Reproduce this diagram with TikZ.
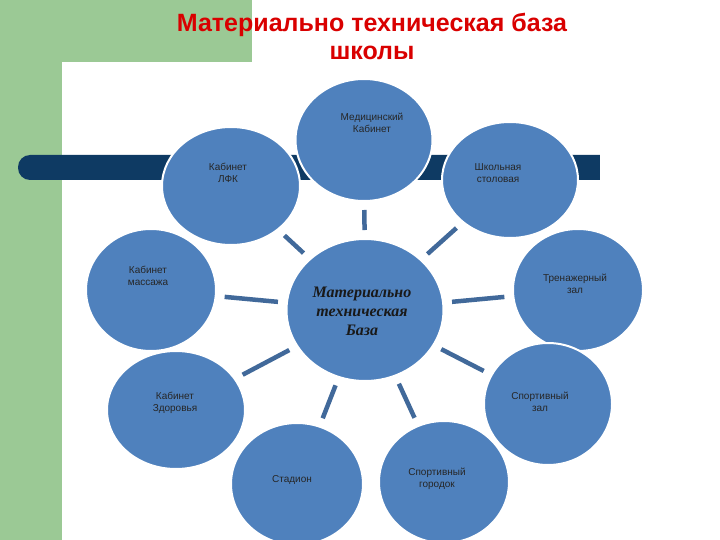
\documentclass[tikz,border=0pt]{standalone}
\usepackage{fontspec}
\usetikzlibrary{shapes.geometric}
\setmainfont{Liberation Sans}
\newfontfamily\scr{Liberation Serif}
\begin{document}
\begin{tikzpicture}[x=1pt,y=-1pt,
  circ/.style={ellipse,fill=cfill,draw=white,line width=2pt,inner sep=0pt},
  lbl/.style={align=center,font=\fontsize{10}{12.5}\selectfont,text=black!85},
  conn/.style={draw=lnk,line width=4.5pt,shorten <=8pt,shorten >=8pt}]
\definecolor{cfill}{HTML}{4F81BD}
\definecolor{lnk}{HTML}{41699A}
\definecolor{grn}{HTML}{9BC995}
\definecolor{navy}{HTML}{0E3A63}
\useasboundingbox (0,0) rectangle (720,540);
\fill[white] (0,0) rectangle (720,540);
\fill[grn] (0,0) rectangle (252,62);
\fill[grn] (0,0) rectangle (62,540);
\fill[white] (62,540) -- (62,84) arc[start angle=180,end angle=90,radius=22] -- (252,62) |- (720,540) -- cycle;
\fill[navy,rounded corners=12pt] (18,155) rectangle (612,180);
\fill[navy] (590,155) rectangle (600,180);
\fill[white] (600,150) rectangle (620,185);
\node[font=\bfseries\fontsize{25}{28}\selectfont,text=red!85!black,align=center] (t) at (372,36) {Материально техническая база\\школы};
\node[circ,minimum width=157pt,minimum height=142pt] (c) at (365,310) {};
\node[circ,minimum width=137pt,minimum height=122pt] (a) at (364,140) {};
\node[circ,minimum width=138pt,minimum height=118pt] (b) at (231,186) {};
\node[circ,minimum width=136pt,minimum height=116pt] (d) at (510,180) {};
\node[circ,minimum width=130pt,minimum height=122pt] (e) at (151,290) {};
\node[circ,minimum width=130pt,minimum height=122pt] (f) at (578,290) {};
\node[circ,minimum width=138pt,minimum height=118pt] (g) at (176,410) {};
\node[circ,minimum width=128pt,minimum height=122pt] (h) at (548,404) {};
\node[circ,minimum width=132pt,minimum height=122pt] (i) at (297,484) {};
\node[circ,minimum width=130pt,minimum height=122pt] (j) at (444,482) {};
\node[lbl] (ta) at (372,123) {Медицинский\\Кабинет};
\node[lbl] (tb) at (228,173) {Кабинет\\ЛФК};
\node[lbl] (td) at (498,173) {Школьная\\столовая};
\node[lbl] (te) at (148,276) {Кабинет\\массажа};
\node[lbl] (tf) at (575,284) {Тренажерный\\зал};
\node[lbl] (tg) at (175,403) {Кабинет\\Здоровья};
\node[lbl] (th) at (540,402) {Спортивный\\зал};
\node[lbl] (ti) at (292,480) {Стадион};
\node[lbl] (tj) at (437,479) {Спортивный\\городок};
\node[align=center,font=\scr\itshape\bfseries\fontsize{16}{19}\selectfont,text=black!90] (tc) at (362,311) {Материально\\техническая\\База};
\foreach \n in {a,b,d,e,f,g,h,i,j} \draw[conn] (c) -- (\n);
\end{tikzpicture}
\end{document}
